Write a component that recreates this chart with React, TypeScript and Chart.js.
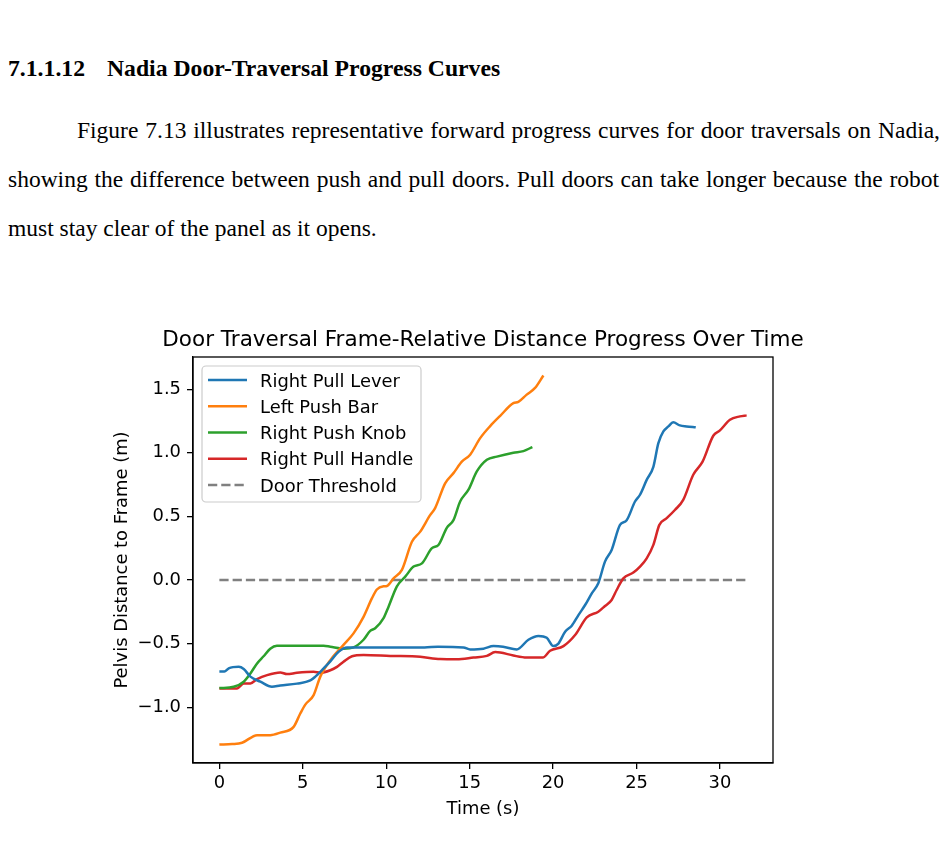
import React, { useEffect, useRef } from "react";
import { Chart, registerables } from "chart.js";

Chart.register(...registerables);

// ---- Data ----
const leverTime = [0, 0.3, 0.56, 1.16, 1.46, 1.86, 2.46, 3.15, 3.65, 4.65, 5.45, 5.75, 6.25, 6.65, 7.14, 7.65, 9.0, 10.5, 12.3, 13.1, 14.63, 15.03, 15.83, 16.43, 17.0, 17.82, 18.52, 19.12, 19.62, 20.02, 20.32, 20.72, 21.12, 21.52, 21.92, 22.32, 22.71, 23.11, 23.51, 24.01, 24.41, 24.91, 25.21, 25.61, 26.01, 26.31, 26.61, 26.91, 27.2, 27.6, 28.0, 28.55];
const leverDist = [-0.72, -0.72, -0.695, -0.683, -0.7, -0.76, -0.8, -0.84, -0.83, -0.815, -0.79, -0.76, -0.695, -0.64, -0.565, -0.53, -0.53, -0.53, -0.53, -0.525, -0.53, -0.546, -0.54, -0.52, -0.525, -0.546, -0.47, -0.44, -0.455, -0.52, -0.5, -0.407, -0.36, -0.276, -0.197, -0.105, -0.026, 0.144, 0.236, 0.433, 0.47, 0.617, 0.67, 0.787, 0.89, 1.076, 1.168, 1.207, 1.24, 1.215, 1.207, 1.2];

const barTime = [0, 0.76, 1.36, 2.26, 3.05, 3.65, 4.45, 4.85, 5.15, 5.65, 6.05, 6.65, 7.44, 8.04, 8.64, 9.14, 9.44, 9.84, 10.04, 10.44, 10.94, 11.54, 12.04, 12.63, 12.93, 13.53, 14.03, 14.53, 15.03, 15.63, 16.23, 16.83, 17.62, 17.92, 18.42, 18.92, 19.42];
const barDist = [-1.294, -1.29, -1.28, -1.22, -1.22, -1.2, -1.155, -1.05, -0.98, -0.905, -0.76, -0.63, -0.51, -0.42, -0.29, -0.145, -0.075, -0.05, -0.047, 0.013, 0.079, 0.3, 0.38, 0.51, 0.565, 0.76, 0.84, 0.93, 0.985, 1.115, 1.21, 1.29, 1.39, 1.4, 1.457, 1.51, 1.608];

const knobTime = [0, 0.86, 1.46, 1.86, 2.26, 2.65, 3.05, 3.45, 5.0, 6.25, 6.65, 7.44, 8.04, 8.64, 9.04, 9.34, 9.84, 10.14, 10.64, 11.14, 11.64, 12.14, 12.74, 13.13, 13.63, 14.03, 14.43, 14.93, 15.43, 16.03, 16.63, 17.62, 18.22, 18.76];
const knobDist = [-0.85, -0.84, -0.8, -0.735, -0.656, -0.6, -0.54, -0.517, -0.517, -0.517, -0.525, -0.54, -0.53, -0.47, -0.4, -0.38, -0.3, -0.21, -0.05, 0.026, 0.105, 0.13, 0.25, 0.275, 0.41, 0.47, 0.617, 0.71, 0.853, 0.945, 0.97, 1.0, 1.013, 1.045];

const handleTime = [0, 1.06, 1.46, 1.86, 2.26, 2.86, 3.65, 4.05, 4.65, 5.65, 6.05, 6.65, 7.05, 7.44, 7.95, 8.64, 10.24, 12.04, 13.23, 14.23, 15.23, 16.03, 16.53, 16.83, 17.62, 18.42, 19.38, 19.82, 20.62, 21.32, 22.02, 22.71, 23.11, 23.51, 23.81, 24.21, 24.81, 25.21, 25.61, 26.01, 26.37, 26.81, 27.3, 27.8, 28.4, 28.96, 29.6, 30.0, 30.6, 31.2, 31.6];
const handleDist = [-0.853, -0.853, -0.813, -0.813, -0.78, -0.748, -0.727, -0.74, -0.73, -0.722, -0.73, -0.71, -0.683, -0.643, -0.6, -0.59, -0.597, -0.604, -0.622, -0.624, -0.61, -0.597, -0.567, -0.57, -0.594, -0.61, -0.61, -0.556, -0.52, -0.433, -0.294, -0.25, -0.205, -0.157, -0.079, 0.013, 0.058, 0.105, 0.17, 0.276, 0.433, 0.486, 0.55, 0.63, 0.827, 0.93, 1.134, 1.176, 1.26, 1.286, 1.294];

const thresholdTime = [0, 31.6];
const thresholdDist = [0, 0];

const seriesNames = ["Right Pull Lever", "Left Push Bar", "Right Push Knob", "Right Pull Handle", "Door Threshold"];
const seriesColors = ["#1f77b4", "#ff7f0e", "#2ca02c", "#d62728", "#808080"];

const xTicks = [0, 5, 10, 15, 20, 25, 30];
const yTicks = [-1.0, -0.5, 0.0, 0.5, 1.0, 1.5];

const chartTitle = "Door Traversal Frame-Relative Distance Progress Over Time";
const xLabel = "Time (s)";
const yLabel = "Pelvis Distance to Frame (m)";

const FONT = '"DejaVu Sans", sans-serif';
const FS = 17.9;
const TITLE_FS = 21.5;

const pts = (xs: number[], ys: number[]) => xs.map((x, i) => ({ x, y: ys[i] }));

const decorPlugin = {
  id: "decor",
  afterDraw(chart: any) {
    const { ctx, chartArea: a } = chart;
    const cx = (a.left + a.right) / 2;
    const cy = (a.top + a.bottom) / 2;
    ctx.save();

    // legend
    const lx = a.left + 9;
    const ly = a.top + 9;
    const lw = 219;
    const lh = 136;
    const r = 4;
    ctx.beginPath();
    ctx.moveTo(lx + r, ly);
    ctx.lineTo(lx + lw - r, ly);
    ctx.arcTo(lx + lw, ly, lx + lw, ly + r, r);
    ctx.lineTo(lx + lw, ly + lh - r);
    ctx.arcTo(lx + lw, ly + lh, lx + lw - r, ly + lh, r);
    ctx.lineTo(lx + r, ly + lh);
    ctx.arcTo(lx, ly + lh, lx, ly + lh - r, r);
    ctx.lineTo(lx, ly + r);
    ctx.arcTo(lx, ly, lx + r, ly, r);
    ctx.closePath();
    ctx.fillStyle = "rgba(255,255,255,0.8)";
    ctx.fill();
    ctx.strokeStyle = "#cccccc";
    ctx.lineWidth = 1.2;
    ctx.stroke();

    ctx.font = `${FS}px ${FONT}`;
    ctx.textAlign = "left";
    ctx.textBaseline = "alphabetic";
    seriesNames.forEach((name, i) => {
      const rowY = ly + 14 + i * 26.25;
      ctx.beginPath();
      ctx.strokeStyle = seriesColors[i];
      ctx.lineWidth = 2.5;
      ctx.setLineDash(i === 4 ? [9.25, 4] : []);
      ctx.moveTo(lx + 6, rowY);
      ctx.lineTo(lx + 45, rowY);
      ctx.stroke();
      ctx.setLineDash([]);
      ctx.fillStyle = "#000";
      ctx.fillText(name, lx + 58, rowY + 6.5);
    });

    // spines
    ctx.strokeStyle = "#000";
    ctx.lineWidth = 1.3;
    ctx.strokeRect(a.left, a.top, a.right - a.left, a.bottom - a.top);

    // title
    ctx.fillStyle = "#000";
    ctx.textAlign = "center";
    ctx.font = `${TITLE_FS}px ${FONT}`;
    ctx.fillText(chartTitle, cx, a.top - 11);

    // x label
    ctx.font = `${FS}px ${FONT}`;
    ctx.fillText(xLabel, cx, a.bottom + 50.5);

    // y label
    ctx.save();
    ctx.translate(a.left - 66.5, cy);
    ctx.rotate(-Math.PI / 2);
    ctx.fillText(yLabel, 0, 0);
    ctx.restore();

    ctx.restore();
  },
};

function DoorChart() {
  const ref = useRef<HTMLCanvasElement | null>(null);
  useEffect(() => {
    if (!ref.current) return;
    const mk = (i: number, data: any[], dashed = false) => ({
      label: seriesNames[i],
      data,
      borderColor: seriesColors[i],
      backgroundColor: seriesColors[i],
      borderWidth: 2.5,
      borderDash: dashed ? [9.25, 4] : [],
      pointRadius: 0,
      fill: false,
      cubicInterpolationMode: "monotone" as const,
    });
    const chart = new Chart(ref.current, {
      type: "line",
      data: {
        datasets: [
          mk(0, pts(leverTime, leverDist)),
          mk(1, pts(barTime, barDist)),
          mk(2, pts(knobTime, knobDist)),
          mk(3, pts(handleTime, handleDist)),
          mk(4, pts(thresholdTime, thresholdDist), true),
        ],
      },
      options: {
        animation: false,
        responsive: false,
        devicePixelRatio: 1,
        layout: { padding: { top: 42, right: 93, left: 0, bottom: 0 } },
        plugins: { legend: { display: false }, title: { display: false }, tooltip: { enabled: false } },
        scales: {
          x: {
            type: "linear",
            min: -1.58,
            max: 33.18,
            afterFit: (s: any) => { s.height = 72; },
            afterBuildTicks: (s: any) => { s.ticks = xTicks.map((v) => ({ value: v })); },
            grid: { drawOnChartArea: false, drawTicks: true, tickLength: 6, color: "#000", lineWidth: 1.3 },
            border: { display: true, color: "#000", width: 1.3 },
            ticks: {
              color: "#000",
              font: { family: FONT, size: FS },
              padding: 4,
              maxRotation: 0,
              callback: (v: any) => String(v),
            },
          },
          y: {
            type: "linear",
            min: -1.439,
            max: 1.753,
            afterFit: (s: any) => { s.width = 93; },
            afterBuildTicks: (s: any) => { s.ticks = yTicks.map((v) => ({ value: v })); },
            grid: { drawOnChartArea: false, drawTicks: true, tickLength: 6, color: "#000", lineWidth: 1.3 },
            border: { display: true, color: "#000", width: 1.3 },
            ticks: {
              color: "#000",
              font: { family: FONT, size: FS },
              padding: 6,
              callback: (v: any) => Number(v).toFixed(1).replace("-", "\u2212"),
            },
          },
        },
      },
      plugins: [decorPlugin],
    });
    return () => chart.destroy();
  }, []);
  return (
    <canvas
      ref={ref}
      width={766}
      height={520}
      style={{ position: "absolute", left: 100, top: 315, width: 766, height: 520 }}
    />
  );
}

const serif = '"Liberation Serif", "Times New Roman", serif';
const lineStyle: React.CSSProperties = {
  position: "absolute",
  fontFamily: serif,
  fontSize: "23.5px",
  lineHeight: "30px",
  whiteSpace: "nowrap",
  color: "#000",
};

export default function App() {
  return (
    <div style={{ position: "absolute", left: 0, top: 0, width: 945, height: 845, overflow: "hidden", background: "#fff" }}>
      <div style={{ ...lineStyle, fontSize: "23.7px", left: 8, top: 53, fontWeight: "bold" }}>7.1.1.12</div>
      <div style={{ ...lineStyle, fontSize: "23.7px", left: 107, top: 53, fontWeight: "bold" }}>Nadia Door-Traversal Progress Curves</div>
      <div style={{ ...lineStyle, left: 77, top: 115, width: 863, whiteSpace: "normal", textAlign: "justify", textAlignLast: "justify" } as React.CSSProperties}>
        Figure 7.13 illustrates representative forward progress curves for door traversals on Nadia,
      </div>
      <div style={{ ...lineStyle, left: 8, top: 164, width: 931, whiteSpace: "normal", textAlign: "justify", textAlignLast: "justify" } as React.CSSProperties}>
        showing the difference between push and pull doors. Pull doors can take longer because the robot
      </div>
      <div style={{ ...lineStyle, left: 8, top: 213 }}>must stay clear of the panel as it opens.</div>
      <DoorChart />
    </div>
  );
}
